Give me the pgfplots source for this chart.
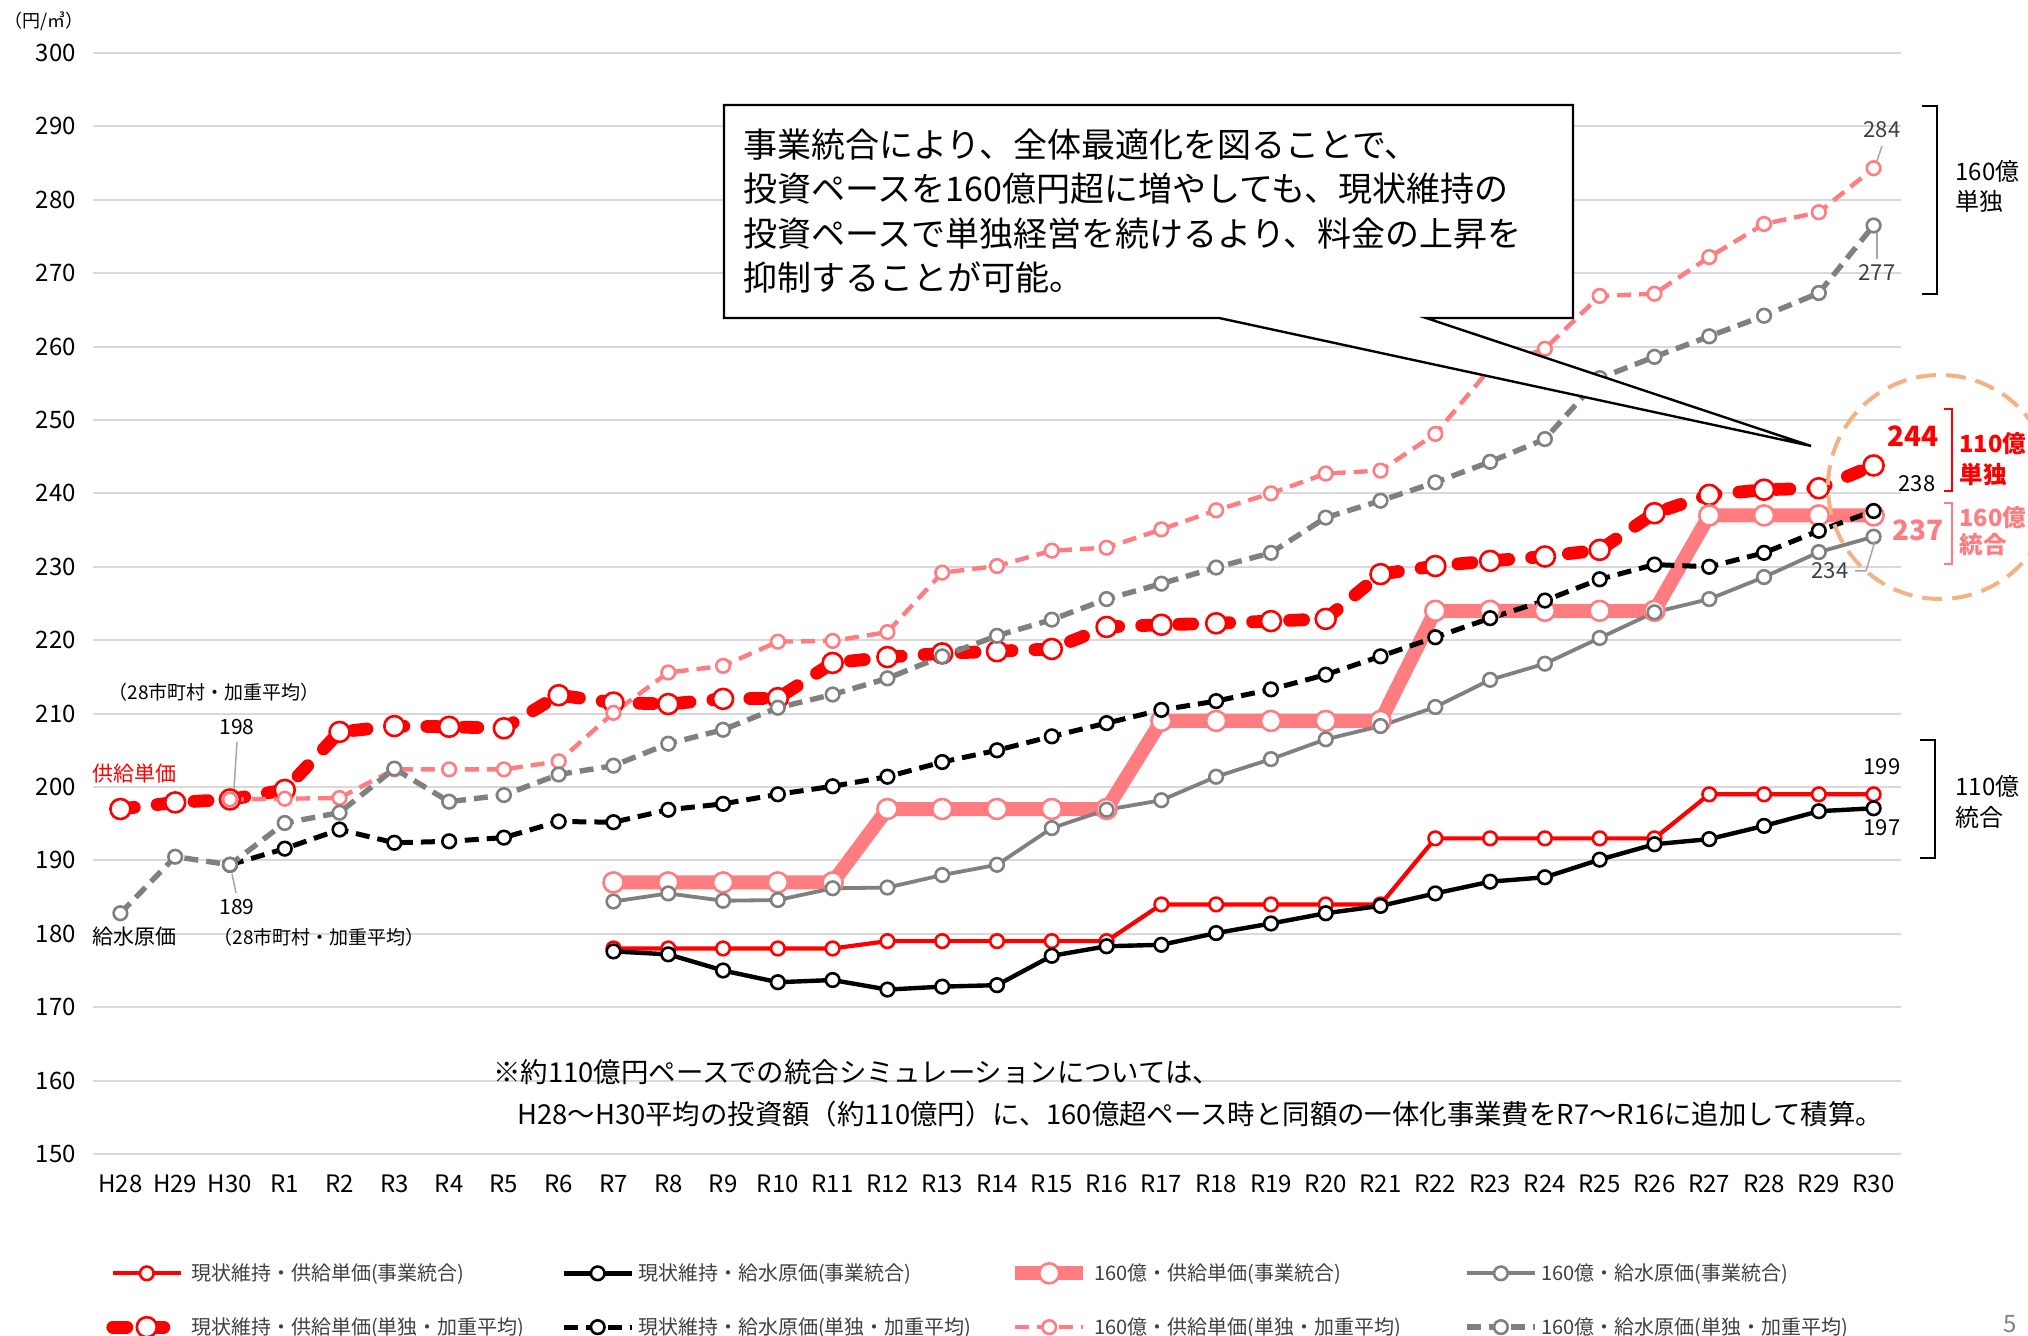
\documentclass[border=0pt]{standalone}
\usepackage{pgfplots}
\pgfplotsset{compat=1.18}
\usepackage{fontspec}
\setmainfont{Noto Sans CJK JP}
\definecolor{cRed}{HTML}{FF0000}
\definecolor{cPink}{HTML}{FF7C80}
\definecolor{cGray}{HTML}{808080}
\definecolor{cGrid}{HTML}{D9D9D9}
\definecolor{cOrange}{HTML}{F4B183}
\definecolor{cText}{HTML}{404040}
\definecolor{cLeader}{HTML}{A6A6A6}
\newcommand{\fs}[2]{\fontsize{#1}{#2}\selectfont}
\pgfplotsset{
 mk/.style={mark=*, mark options={solid, fill=white, draw=#1, line width=1.3pt}},
 sA/.style={cRed, line width=2.1pt, mk=cRed, mark size=3.4pt},
 sB/.style={black, line width=2.2pt, mk=black, mark size=3.4pt},
 sC/.style={cPink, line width=7pt, mk=cPink, mark size=5pt},
 sD/.style={cGray, line width=1.9pt, mk=cGray, mark size=3.4pt},
 sE/.style={cRed, line width=6.4pt, line cap=round, dash pattern=on 7pt off 11.5pt, mk=cRed, mark size=5pt},
 sF/.style={black, line width=2.5pt, dash pattern=on 7pt off 4pt, mk=black, mark size=3.4pt},
 sG/.style={cPink, line width=2.2pt, dash pattern=on 7pt off 4pt, mk=cPink, mark size=3.4pt},
 sH/.style={cGray, line width=2.7pt, dash pattern=on 7pt off 4pt, mk=cGray, mark size=3.4pt},
}
\begin{document}
\begin{tikzpicture}
\begin{axis}[
  at={(46.5pt,91pt)}, anchor=south west,
  width=904pt, height=550.5pt, scale only axis,
  xmin=-0.5, xmax=32.5, ymin=150, ymax=300,
  ytick={150,160,...,300},
  xtick={0,...,32},
  xticklabels={H28,H29,H30,R1,R2,R3,R4,R5,R6,R7,R8,R9,R10,R11,R12,R13,R14,R15,R16,R17,R18,R19,R20,R21,R22,R23,R24,R25,R26,R27,R28,R29,R30},
  axis line style={draw=none},
  major tick length=0pt,
  ymajorgrids, grid style={cGrid, line width=1pt},
  tick label style={font=\fs{12}{14}, text=black},
  /pgf/number format/assume math mode=true,
  yticklabel style={xshift=-5pt},
  xticklabel style={yshift=-7pt},
  legend columns=4,
  legend cell align=left,
  legend image code/.code={\draw[mark repeat=2,mark phase=2,#1] plot coordinates {(0pt,0pt) (17pt,0pt) (34pt,0pt)};},
  legend style={at={(axis description cs:0.0072,-0.0954)}, anchor=north west, draw=none, fill=none, inner sep=0pt,
    row sep=13pt, /tikz/every even column/.append style={column sep=3pt},
    nodes={inner sep=2pt, text=cText, font=\fs{10}{12}}},
  clip=false,
]
% z-order: bottom to top
\addplot[sE, forget plot] coordinates {(0,197.0)(1,197.9)(2,198.3)(3,199.6)(4,207.5)(5,208.3)(6,208.2)(7,208.0)(8,212.5)(9,211.5)(10,211.3)(11,212.0)(12,212.1)(13,216.9)(14,217.7)(15,218.2)(16,218.5)(17,218.8)(18,221.8)(19,222.1)(20,222.3)(21,222.6)(22,222.9)(23,229.0)(24,230.1)(25,230.8)(26,231.4)(27,232.3)(28,237.3)(29,239.8)(30,240.5)(31,240.7)(32,243.8)};
\addplot[sC, forget plot] coordinates {(9,187)(10,187)(11,187)(12,187)(13,187)(14,197)(15,197)(16,197)(17,197)(18,197)(19,209)(20,209)(21,209)(22,209)(23,209)(24,224)(25,224)(26,224)(27,224)(28,224)(29,237)(30,237)(31,237)(32,237)};
\addplot[sA, forget plot] coordinates {(9,178)(10,178)(11,178)(12,178)(13,178)(14,179)(15,179)(16,179)(17,179)(18,179)(19,184)(20,184)(21,184)(22,184)(23,184)(24,193)(25,193)(26,193)(27,193)(28,193)(29,199)(30,199)(31,199)(32,199)};
\addplot[sB, forget plot] coordinates {(9,177.6)(10,177.2)(11,175.0)(12,173.4)(13,173.7)(14,172.4)(15,172.8)(16,173.0)(17,177.0)(18,178.3)(19,178.5)(20,180.1)(21,181.4)(22,182.8)(23,183.8)(24,185.5)(25,187.1)(26,187.7)(27,190.1)(28,192.2)(29,192.9)(30,194.7)(31,196.7)(32,197.1)};
\addplot[sD, forget plot] coordinates {(9,184.4)(10,185.5)(11,184.5)(12,184.6)(13,186.2)(14,186.3)(15,188.0)(16,189.4)(17,194.4)(18,196.9)(19,198.2)(20,201.4)(21,203.8)(22,206.5)(23,208.3)(24,210.9)(25,214.6)(26,216.8)(27,220.3)(28,223.8)(29,225.6)(30,228.6)(31,232.0)(32,234.1)};
\addplot[sF, forget plot] coordinates {(2,189.4)(3,191.6)(4,194.2)(5,192.4)(6,192.6)(7,193.1)(8,195.3)(9,195.2)(10,196.9)(11,197.7)(12,199.0)(13,200.1)(14,201.4)(15,203.4)(16,205.0)(17,206.9)(18,208.7)(19,210.5)(20,211.7)(21,213.3)(22,215.3)(23,217.8)(24,220.4)(25,223.0)(26,225.4)(27,228.3)(28,230.3)(29,230.0)(30,231.9)(31,234.9)(32,237.6)};
\addplot[sG, forget plot] coordinates {(2,198.3)(3,198.4)(4,198.5)(5,202.4)(6,202.4)(7,202.4)(8,203.5)(9,210.1)(10,215.6)(11,216.5)(12,219.8)(13,219.9)(14,221.1)(15,229.2)(16,230.1)(17,232.2)(18,232.6)(19,235.1)(20,237.7)(21,240.0)(22,242.7)(23,243.1)(24,248.1)(25,257.0)(26,259.7)(27,266.9)(28,267.2)(29,272.2)(30,276.7)(31,278.3)(32,284.3)};
\addplot[sH, forget plot] coordinates {(0,182.8)(1,190.5)(2,189.4)(3,195.1)(4,196.5)(5,202.5)(6,198.0)(7,198.9)(8,201.7)(9,202.9)(10,205.9)(11,207.8)(12,210.8)(13,212.6)(14,214.8)(15,217.8)(16,220.6)(17,222.8)(18,225.6)(19,227.7)(20,229.9)(21,231.9)(22,236.7)(23,239.0)(24,241.5)(25,244.3)(26,247.4)(27,255.7)(28,258.6)(29,261.4)(30,264.2)(31,267.3)(32,276.5)};
% legend in original order
\addlegendimage{sA}\addlegendentry{\makebox[180pt][l]{現状維持・供給単価(事業統合)}}
\addlegendimage{sB}\addlegendentry{\makebox[180pt][l]{現状維持・給水原価(事業統合)}}
\addlegendimage{sC}\addlegendentry{\makebox[180pt][l]{160億・供給単価(事業統合)}}
\addlegendimage{sD}\addlegendentry{\makebox[180pt][l]{160億・給水原価(事業統合)}}
\addlegendimage{sE}\addlegendentry{\makebox[180pt][l]{現状維持・供給単価(単独・加重平均)}}
\addlegendimage{sF}\addlegendentry{\makebox[180pt][l]{現状維持・給水原価(単独・加重平均)}}
\addlegendimage{sG}\addlegendentry{\makebox[180pt][l]{160億・供給単価(単独・加重平均)}}
\addlegendimage{sH}\addlegendentry{\makebox[180pt][l]{160億・給水原価(単独・加重平均)}}
\end{axis}
\begin{scope}[x=0.5pt,y=-0.5pt,shift={(0pt,668pt)}]
 % unit label
 \node[font=\fs{9}{11}, inner sep=0pt] at (44,21) {（円/㎥）};
 % callout
 \draw[black, line width=1.2pt, fill=white, line join=miter] (724,105) -- (1573,105) -- (1573,318) -- (1426,318) -- (1811,446) -- (1219,318) -- (724,318) -- cycle;
 \node[anchor=west, align=left, font=\fs{17}{22.2}, inner sep=0pt] at (743,211) {事業統合により、全体最適化を図ることで、\\投資ペースを160億円超に増やしても、現状維持の\\投資ペースで単独経営を続けるより、料金の上昇を\\抑制することが可能。};
 % right brackets
 \draw[black, line width=1pt] (1922,106) -- (1937,106) -- (1937,294) -- (1922,294);
 \node[anchor=west, align=left, font=\fs{12}{15}, inner sep=0pt] at (1955,186) {160億\\単独};
 \draw[black, line width=1pt] (1920,740) -- (1935,740) -- (1935,858) -- (1920,858);
 \node[anchor=west, align=left, font=\fs{12}{15.5}, inner sep=0pt] at (1955,802) {110億\\統合};
 \draw[cRed, line width=1pt] (1944,409) -- (1952,409) -- (1952,491) -- (1944,491);
 \node[anchor=west, align=left, font=\fs{11.8}{15.5}\bfseries, text=cRed, inner sep=0pt] at (1959,459) {110億\\単独};
 \draw[cPink, line width=1pt] (1944,503) -- (1952,503) -- (1952,564) -- (1944,564);
 \node[anchor=west, align=left, font=\fs{11.8}{13.5}\bfseries, text=cPink, inner sep=0pt] at (1959,531) {160億\\統合};
 % end values
 \node[font=\fs{14}{16}\bfseries, text=cRed, inner sep=0pt] at (1913,436) {244};
 \node[font=\fs{11}{13}, inner sep=0pt] at (1917,484) {238};
 \node[font=\fs{14}{16}\bfseries, text=cPink, inner sep=0pt] at (1918,530) {237};
 \node[font=\fs{11}{13}, text=cText, inner sep=0pt] at (1830,571) {234};
 \draw[cLeader, line width=0.75pt] (1855,571) -- (1866,571) -- (1875,541);
 \node[font=\fs{11}{13}, text=cText, inner sep=0pt] at (1882,130) {284};
 \draw[cLeader, line width=0.75pt] (1882,146) -- (1877,161);
 \node[font=\fs{11}{13}, text=cText, inner sep=0pt] at (1877,273) {277};
 \draw[cLeader, line width=0.75pt] (1877,233) -- (1877,259);
 \node[font=\fs{11}{13}, inner sep=0pt] at (1882,767) {199};
 \node[font=\fs{11}{13}, inner sep=0pt] at (1882,828) {197};
 % orange circle
 \draw[cOrange, line width=2pt, dash pattern=on 10pt off 5pt] (1940,487) circle[radius=56pt];
 % left annotations
 \node[font=\fs{9.5}{11}, inner sep=0pt] at (214,692) {（28市町村・加重平均）};
 \node[font=\fs{10.5}{12}, inner sep=0pt] at (237,727) {198};
 \draw[cLeader, line width=0.75pt] (237,742) -- (234,789);
 \node[font=\fs{10.5}{12}, text=cRed, inner sep=0pt] at (134,774) {供給単価};
 \node[font=\fs{10.5}{12}, inner sep=0pt] at (237,907) {189};
 \draw[cLeader, line width=0.75pt] (232,874) -- (236,893);
 \node[font=\fs{9.5}{11}, inner sep=0pt] at (319,937) {（28市町村・加重平均）};
 \node[font=\fs{10.5}{12}, inner sep=0pt] at (134,937) {給水原価};
 % footnote
 \node[anchor=west, font=\fs{13.7}{16}, inner sep=0pt] at (493,1072) {※約110億円ペースでの統合シミュレーションについては、};
 \node[anchor=west, font=\fs{13.7}{16}, inner sep=0pt] at (517,1114) {H28～H30平均の投資額（約110億円）に、160億超ペース時と同額の一体化事業費をR7～R16に追加して積算。};
 % page number
 \node[font=\fs{12}{14}, text=cGray, inner sep=0pt] at (2010,1324) {5};
\end{scope}
\pgfresetboundingbox
\path[use as bounding box] (0,0) rectangle (1014pt,668pt);
\end{tikzpicture}
\end{document}
